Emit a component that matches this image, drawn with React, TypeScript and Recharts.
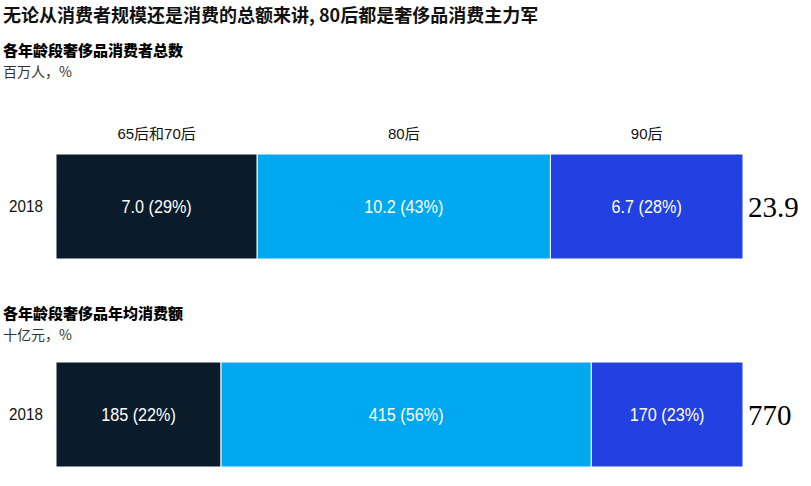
import { BarChart, Bar, XAxis, YAxis, LabelList } from "recharts";

// age cohorts (stack order left -> right)
const cohorts = ["65后和70后", "80后", "90后"];
const cohortKeys = ["c6570", "c80", "c90"];
const colors = ["#0a1b2a", "#00a8f0", "#2340e0"];

// chart 1: consumers, millions
const consumerYears = ["2018"];
const consumerValues = [7.0, 10.2, 6.7];
const consumerShares = [29, 43, 28];
const consumerTotal = "23.9";

// chart 2: annual spend, billion RMB
const spendYears = ["2018"];
const spendValues = [185, 415, 170];
const spendShares = [22, 56, 23];
const spendTotal = "770";

const labelFont = "'Liberation Sans', Arial, 'Noto Sans CJK SC', sans-serif";
const cjkFont = "'Noto Sans CJK SC', sans-serif";

function buildRow(year: string, values: number[]) {
  const row: Record<string, any> = { year };
  cohortKeys.forEach((k, i) => (row[k] = values[i]));
  return row;
}

// slightly narrow text, the original uses a narrow Arial-like face
function Condensed({ x, y, text, fill, size, sx = 0.9 }: { x: number; y: number; text: string; fill: string; size: number; sx?: number }) {
  return (
    <text
      transform={`translate(${x},${y}) scale(${sx},1)`}
      textAnchor="middle"
      dominantBaseline="central"
      fill={fill}
      fontSize={size}
      fontFamily={labelFont}
    >
      {text}
    </text>
  );
}

interface StackProps {
  years: string[];
  values: number[];
  shares: number[];
  total: string;
  decimals: number;
  showNames: boolean;
  top: number;
}

function StackChart({ years, values, shares, total, decimals, showNames, top }: StackProps) {
  const data = [buildRow(years[0], values)];
  const sum = values.reduce((a, b) => a + b, 0);
  return (
    <div style={{ position: "absolute", left: 0, top }}>
      <BarChart
        width={811}
        height={150}
        data={data}
        layout="vertical"
        barCategoryGap={0}
        margin={{ top: 44, right: 68, bottom: 1, left: 0 }}
      >
        <XAxis type="number" hide domain={[0, sum]} />
        <YAxis
          type="category"
          dataKey="year"
          width={56}
          axisLine={false}
          tickLine={false}
          tick={(p: any) => (
            <Condensed x={26} y={p.y} text={p.payload.value} fill="#111" size={16} sx={0.95} />
          )}
        />
        {cohortKeys.map((k, i) => (
          <Bar
            key={k}
            dataKey={k}
            stackId="a"
            fill={colors[i]}
            stroke="#ffffff"
            strokeWidth={1}
            isAnimationActive={false}
          >
            <LabelList
              dataKey={k}
              content={(p: any) => (
                <Condensed
                  x={p.x + p.width / 2}
                  y={p.y + p.height / 2 + 1}
                  text={`${Number(p.value).toFixed(decimals)} (${shares[i]}%)`}
                  fill="#ffffff"
                  size={18}
                />
              )}
            />
            {showNames && (
              <LabelList
                dataKey={k}
                content={(p: any) => (
                  <Condensed x={p.x + p.width / 2} y={p.y - 21} text={cohorts[i]} fill="#111" size={15} sx={1} />
                )}
              />
            )}
            {i === cohortKeys.length - 1 && (
              <LabelList
                dataKey={k}
                position="right"
                offset={5}
                fill="#000"
                fontSize={29}
                fontFamily="'Liberation Serif', 'Times New Roman', serif"
                formatter={() => total}
              />
            )}
          </Bar>
        ))}
      </BarChart>
    </div>
  );
}

export default function App() {
  return (
    <div
      style={{
        position: "absolute",
        left: 0,
        top: 0,
        width: 811,
        height: 486,
        background: "#fff",
        overflow: "hidden",
      }}
    >
      <div
        style={{
          position: "absolute",
          left: 3,
          top: 1,
          fontFamily: cjkFont,
          fontWeight: 700,
          fontSize: 18,
          color: "#111",
          whiteSpace: "nowrap",
        }}
      >
        无论从消费者规模还是消费的总额来讲, 80后都是奢侈品消费主力军
      </div>
      <div style={{ position: "absolute", left: 3, top: 39, fontFamily: cjkFont, fontWeight: 900, fontSize: 15, color: "#000" }}>
        各年龄段奢侈品消费者总数
      </div>
      <div style={{ position: "absolute", left: 3, top: 61, fontFamily: cjkFont, fontSize: 14, color: "#333" }}>
        百万人，%
      </div>
      <StackChart
        years={consumerYears}
        values={consumerValues}
        shares={consumerShares}
        total={consumerTotal}
        decimals={1}
        showNames={true}
        top={110}
      />
      <div style={{ position: "absolute", left: 3, top: 302, fontFamily: cjkFont, fontWeight: 900, fontSize: 15, color: "#000" }}>
        各年龄段奢侈品年均消费额
      </div>
      <div style={{ position: "absolute", left: 3, top: 324, fontFamily: cjkFont, fontSize: 14, color: "#333" }}>
        十亿元，%
      </div>
      <StackChart
        years={spendYears}
        values={spendValues}
        shares={spendShares}
        total={spendTotal}
        decimals={0}
        showNames={false}
        top={318}
      />
    </div>
  );
}
